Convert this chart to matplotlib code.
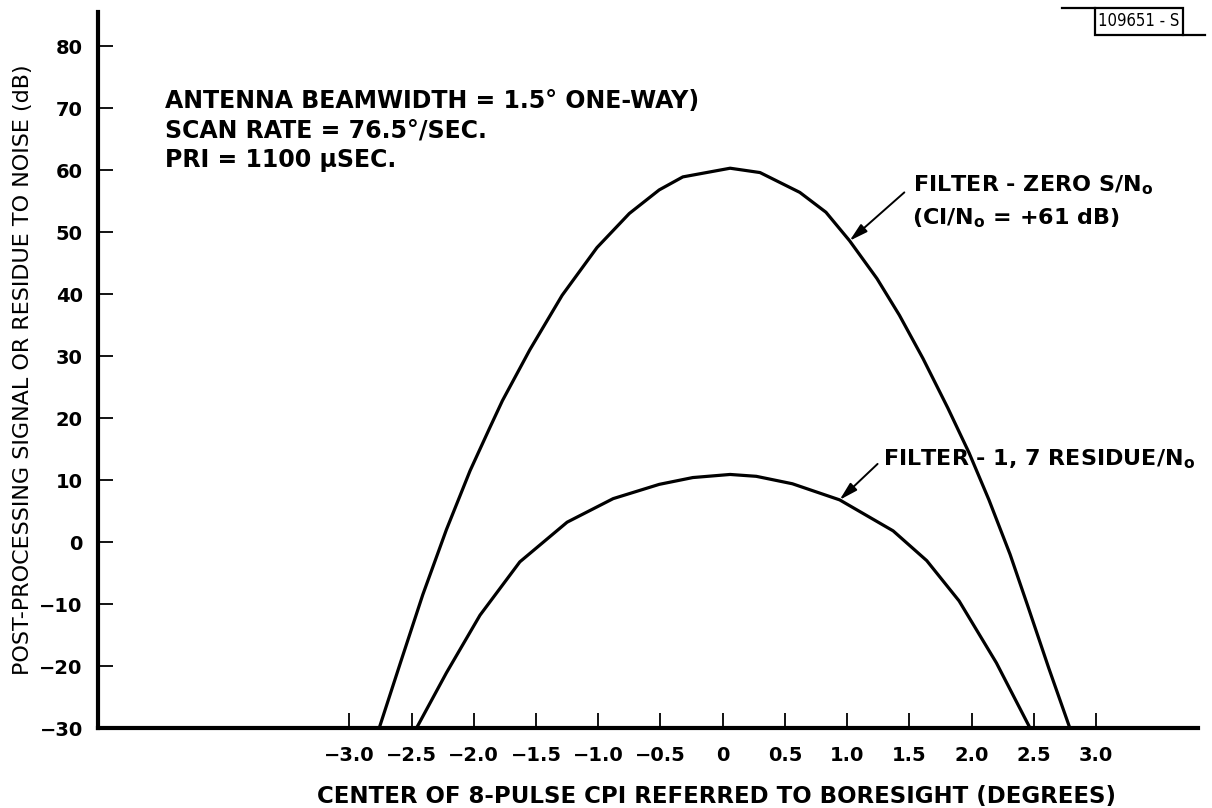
import numpy as np
import matplotlib.pyplot as plt
from matplotlib.lines import Line2D
from matplotlib.patches import Rectangle

plt.rcParams['font.family'] = ['DejaVu Sans']
plt.rcParams['mathtext.fontset'] = 'dejavusans'

# filter-zero signal-to-noise vs. CPI centre (deg off boresight, dB)
zero_x = [-2.76, -2.59, -2.41, -2.22, -2.03, -1.87, -1.77, -1.55, -1.29,
          -1.01, -0.75, -0.51, -0.32, 0.06, 0.30, 0.62, 0.83, 1.02, 1.24,
          1.42, 1.61, 1.81, 1.98, 2.14, 2.31, 2.45, 2.62, 2.79]
zero_db = [-30, -19.5, -8.5, 2.0, 11.5, 18.5, 22.8, 31.0, 39.8,
           47.5, 53.0, 56.8, 58.9, 60.3, 59.6, 56.4, 53.2, 48.6, 42.5,
           36.6, 29.6, 21.6, 14.4, 6.8, -2.0, -10.2, -20.3, -30]

# filter 1,7 residue-to-noise
resid_x = [-2.46, -2.22, -1.95, -1.63, -1.25, -0.88, -0.51, -0.24, 0.06,
           0.27, 0.56, 0.94, 1.37, 1.64, 1.90, 2.20, 2.47]
resid_db = [-30, -21.1, -11.8, -3.2, 3.2, 7.0, 9.3, 10.4, 10.9,
            10.6, 9.4, 6.8, 1.8, -3.0, -9.5, -19.5, -30]

x_ticks = [-3.0, -2.5, -2.0, -1.5, -1.0, -0.5, 0, 0.5, 1.0, 1.5, 2.0, 2.5, 3.0]
x_tick_labels = ['\u22123.0', '\u22122.5', '\u22122.0', '\u22121.5', '\u22121.0',
                 '\u22120.5', '0', '0.5', '1.0', '1.5', '2.0', '2.5', '3.0']
y_ticks = list(range(-30, 90, 10))

W, H = 1212, 808


def fx(px):
    return px / W


def fy(py):
    return 1 - py / H


fig = plt.figure(figsize=(W / 100, H / 100), dpi=100)
ax = fig.add_axes([fx(98), fy(728), fx(1198) - fx(98), fy(12) - fy(728)])

ax.plot(zero_x, zero_db, color='black', lw=2.3, solid_joinstyle='round')
ax.plot(resid_x, resid_db, color='black', lw=2.3, solid_joinstyle='round')

ax.set_xlim(-5.02, 3.82)
ax.set_ylim(-30, 85.5)

for side in ['top', 'right']:
    ax.spines[side].set_visible(False)
for side in ['left', 'bottom']:
    ax.spines[side].set_linewidth(3)

ax.set_xticks(x_ticks)
ax.set_xticklabels(x_tick_labels)
ax.set_yticks(y_ticks)
ax.tick_params(axis='both', direction='in', length=11, width=1.3,
               labelsize=14)
ax.tick_params(axis='y', pad=11)
ax.tick_params(axis='x', pad=13)
for lab in ax.get_xticklabels() + ax.get_yticklabels():
    lab.set_fontweight('bold')

# beam / scan parameters
notes = ['ANTENNA BEAMWIDTH = 1.5\u00b0 ONE-WAY)',
         'SCAN RATE = 76.5\u00b0/SEC.',
         'PRI = 1100 \u03bcSEC.']
for i, line in enumerate(notes):
    fig.text(fx(165), fy(101 + 29.5 * i), line, fontsize=17,
             fontweight='bold', ha='left', va='center')

# curve call-outs
ax.text(1.53, 57.5, r'FILTER - ZERO S/N$_\mathbf{o}$', fontsize=16,
        fontweight='bold', ha='left', va='center')
ax.text(1.52, 52.2, r'(CI/N$_\mathbf{o}$ = +61 dB)', fontsize=16,
        fontweight='bold', ha='left', va='center')
ax.annotate('', xy=(1.02, 48.6), xytext=(1.46, 56.4),
            arrowprops=dict(arrowstyle='-|>,head_length=1.1,head_width=0.3',
                            color='black', lw=1.4, shrinkA=0, shrinkB=0))

ax.text(1.285, 13.3, r'FILTER - 1, 7 RESIDUE/N$_\mathbf{o}$', fontsize=16,
        fontweight='bold', ha='left', va='center')
ax.annotate('', xy=(0.94, 6.8), xytext=(1.245, 12.6),
            arrowprops=dict(arrowstyle='-|>,head_length=1.1,head_width=0.3',
                            color='black', lw=1.4, shrinkA=0, shrinkB=0))

# axis titles
fig.text(fx(23), fy(370), 'POST-PROCESSING SIGNAL OR RESIDUE TO NOISE (dB)',
         rotation=90, fontsize=16, ha='center', va='center')
fig.text(fx(317), fy(797),
         'CENTER OF 8-PULSE CPI REFERRED TO BORESIGHT (DEGREES)',
         fontsize=16.5, fontweight='bold', ha='left', va='center')

# drawing number tag
fig.add_artist(Rectangle((fx(1095), fy(35)), fx(1183) - fx(1095),
                         fy(8) - fy(35), transform=fig.transFigure,
                         fill=False, lw=1.6, color='black'))
fig.add_artist(Line2D([fx(1062), fx(1095)], [fy(8), fy(8)],
                      transform=fig.transFigure, lw=1.6, color='black'))
fig.add_artist(Line2D([fx(1183), fx(1205)], [fy(35), fy(35)],
                      transform=fig.transFigure, lw=1.6, color='black'))
fig.text(fx(1139), fy(21.5), '109651 - S', fontsize=12,
         fontstretch='condensed', ha='center', va='center')

fig.savefig('out.png', dpi=100)
